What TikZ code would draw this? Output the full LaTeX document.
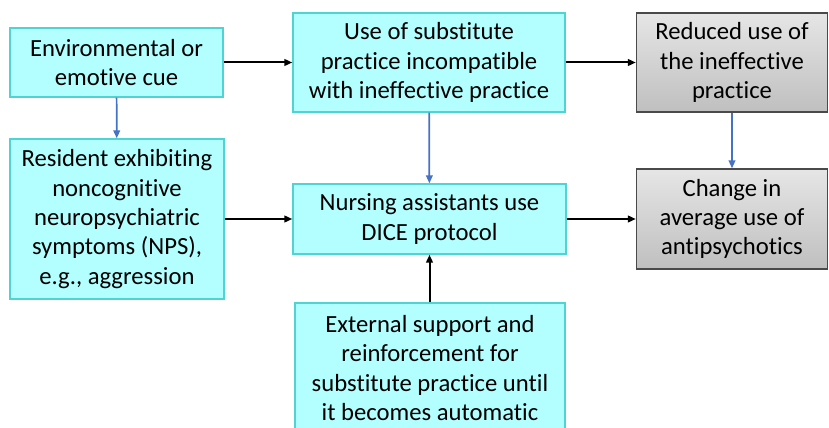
\documentclass[tikz,border=0pt]{standalone}
\usepackage{fontspec}
\setmainfont{Carlito}[Ligatures=NoCommon]
\usetikzlibrary{arrows.meta, positioning}
\definecolor{ccyan}{HTML}{B3FFFF}
\definecolor{cteal}{HTML}{4FD3D3}
\definecolor{cblue}{HTML}{4472C4}
\definecolor{cdark}{HTML}{4A4A4A}
\tikzset{
  every picture/.style={font=\fontsize{18.5}{22}\selectfont, line width=1pt},
  box/.style={draw=cteal, fill=ccyan, align=center, inner sep=3pt},
  outbox/.style={draw=cdark, top color=gray!20, bottom color=gray!50, align=center, inner sep=3pt},
  arrow/.style={-{Triangle[length=6pt, width=5pt]}, draw=black, line width=1.5pt},
  bluearrow/.style={-{Triangle[length=6pt, width=5pt]}, draw=cblue, line width=1.3pt},
}
\begin{document}
\begin{tikzpicture}[x=0.75pt, y=-0.75pt]
  \useasboundingbox (0,0) rectangle (829,428);
  % left column
  \node[box, minimum width=159.75pt, minimum height=51.75pt] (cue) at (116.5,62.5) {Environmental or\\emotive cue};
  \node[box, minimum width=160.5pt, minimum height=120pt] (resident) at (117,219) {Resident exhibiting\\noncognitive\\neuropsychiatric\\symptoms (NPS),\\e.g., aggression};
  % middle column
  \node[box, minimum width=204pt, minimum height=74.25pt] (subst) at (429,62.5) {Use of substitute\\practice incompatible\\with ineffective practice};
  \node[box, minimum width=204.75pt, minimum height=52.5pt] (dice) at (429.5,219) {Nursing assistants use\\DICE protocol};
  \node[box, minimum width=202.5pt, minimum height=97.5pt] (support) at (430,368) {External support and\\reinforcement for\\substitute practice until\\it becomes automatic};
  % outcomes
  \node[outbox, minimum width=143.25pt, minimum height=74.25pt] (reduced) at (732,62.5) {Reduced use of\\the ineffective\\practice};
  \node[outbox, minimum width=143.25pt, minimum height=75pt] (change) at (732,219) {Change in\\average use of\\antipsychotics};
  \draw[arrow] (cue) -- (subst);
  \draw[arrow] (subst) -- (reduced);
  \draw[arrow] (resident) -- (dice);
  \draw[arrow] (dice) -- (change);
  \draw[arrow] (support.north -| dice.south) -- (dice.south);
  \draw[bluearrow] (cue) -- (resident);
  \draw[bluearrow] (subst) -- (dice);
  \draw[bluearrow] (reduced) -- (change);
\end{tikzpicture}
\end{document}
